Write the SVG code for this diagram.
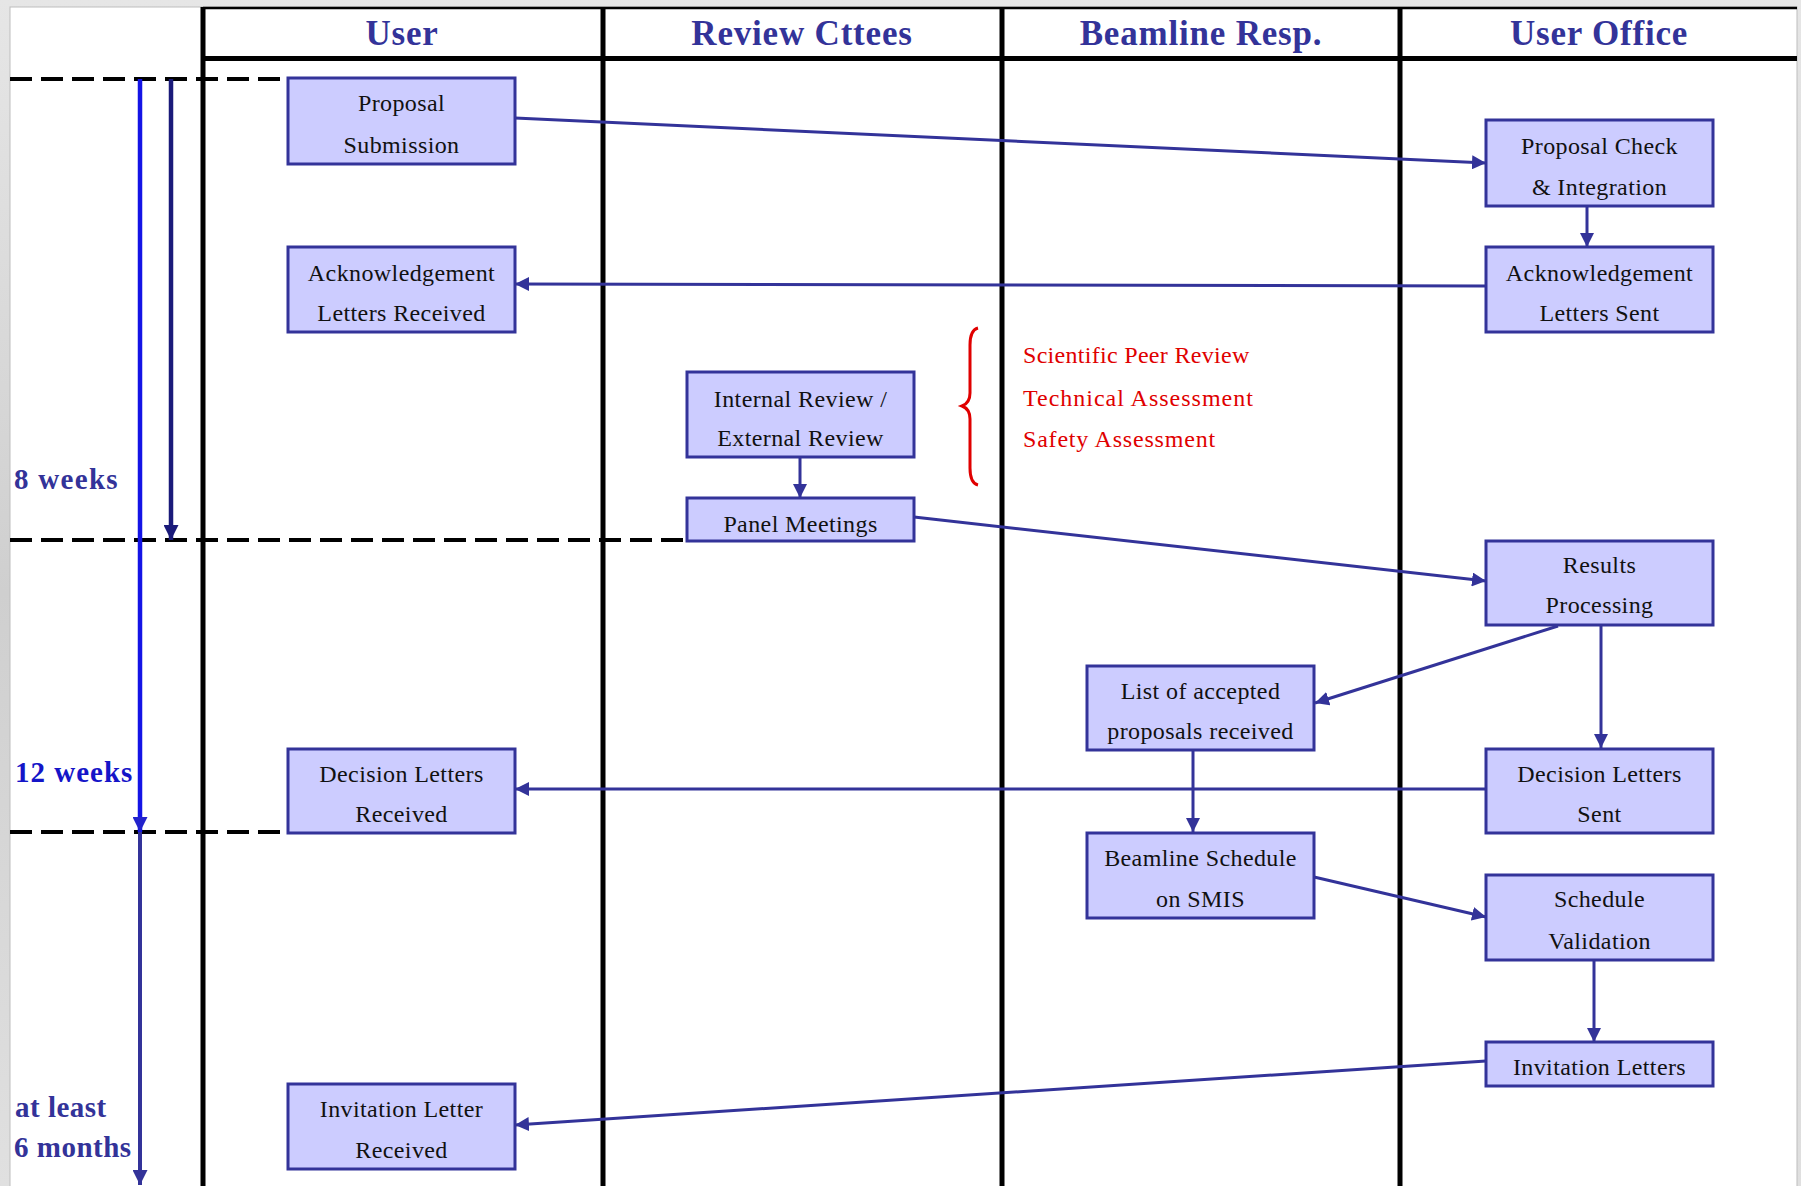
<svg xmlns="http://www.w3.org/2000/svg" width="1801" height="1186" viewBox="0 0 1801 1186">
<style>
.node rect{fill:#CCCCFF;stroke:#333399;stroke-width:3}
.node text{font-family:"Liberation Serif","Times New Roman",serif;font-size:24px;fill:#111;text-anchor:middle;letter-spacing:0.4px}
.lane{stroke:#000;stroke-width:5}
.hdr{font-family:"Liberation Serif","Times New Roman",serif;font-size:35px;font-weight:bold;fill:#333399;text-anchor:middle;letter-spacing:0.8px}
.dash{stroke:#000;stroke-width:4;stroke-dasharray:22 9;fill:none}
.conn line{stroke:#333399;stroke-width:3;fill:none;marker-end:url(#ah)}
.lbl{font-family:"Liberation Serif","Times New Roman",serif;font-size:29px;font-weight:bold;letter-spacing:0.5px}
.red{font-family:"Liberation Serif","Times New Roman",serif;font-size:24px;fill:#E00000;letter-spacing:0.8px}
</style>
<defs>
<linearGradient id="bg" x1="0" y1="0" x2="0" y2="1">
<stop offset="0" stop-color="#e6e6e6"/>
<stop offset="0.5" stop-color="#cfcfcf"/>
<stop offset="1" stop-color="#e0e0e0"/>
</linearGradient>
<marker id="ah" viewBox="0 0 12 12" refX="12" refY="6" markerWidth="14" markerHeight="14" markerUnits="userSpaceOnUse" orient="auto">
<path d="M0,0 L12,6 L0,12 Z" fill="#333399"/>
</marker>
<marker id="ahb" viewBox="0 0 12 12" refX="12" refY="6" markerWidth="15" markerHeight="15" markerUnits="userSpaceOnUse" orient="auto">
<path d="M0,0 L12,6 L0,12 Z" fill="#2222CC"/>
</marker>
<marker id="ahn" viewBox="0 0 12 12" refX="12" refY="6" markerWidth="15" markerHeight="15" markerUnits="userSpaceOnUse" orient="auto">
<path d="M0,0 L12,6 L0,12 Z" fill="#1a1a7a"/>
</marker>
<marker id="ahm" viewBox="0 0 12 12" refX="12" refY="6" markerWidth="15" markerHeight="15" markerUnits="userSpaceOnUse" orient="auto">
<path d="M0,0 L12,6 L0,12 Z" fill="#333399"/>
</marker>
</defs>

<g id="background">
<rect x="0" y="0" width="1801" height="1186" fill="url(#bg)"/>
<rect x="10" y="7" width="1787" height="1185" fill="#ffffff" stroke="#bdbdbd" stroke-width="1"/>
</g>

<g id="table">
<line x1="203" y1="8" x2="1797" y2="8" stroke="#000" stroke-width="2.5"/>
<line x1="203" y1="58.5" x2="1797" y2="58.5" class="lane"/>
<line x1="203" y1="7" x2="203" y2="1186" class="lane"/>
<line x1="603" y1="7" x2="603" y2="1186" class="lane"/>
<line x1="1002" y1="7" x2="1002" y2="1186" class="lane"/>
<line x1="1400" y1="7" x2="1400" y2="1186" class="lane"/>
<text class="hdr" x="402" y="45">User</text>
<text class="hdr" x="802" y="45">Review Cttees</text>
<text class="hdr" x="1201" y="45">Beamline Resp.</text>
<text class="hdr" x="1599" y="45">User Office</text>
</g>

<g id="milestones">
<line class="dash" x1="10" y1="79" x2="288" y2="79"/>
<line class="dash" x1="10" y1="540" x2="687" y2="540"/>
<line class="dash" x1="10" y1="832" x2="288" y2="832"/>
</g>

<g id="timeline">
<line x1="140" y1="79" x2="140" y2="832" stroke="#1414E6" stroke-width="4.5" marker-end="url(#ahb)"/>
<line x1="140" y1="832" x2="140" y2="1185" stroke="#333399" stroke-width="4" marker-end="url(#ahm)"/>
<line x1="171" y1="79" x2="171" y2="540" stroke="#1a1a7a" stroke-width="4.5" marker-end="url(#ahn)"/>
<text class="lbl" x="14" y="489" fill="#333399" style="letter-spacing:1.3px">8 weeks</text>
<text class="lbl" x="15" y="782" fill="#1515C8" style="letter-spacing:1px">12 weeks</text>
<text class="lbl" x="15" y="1117" fill="#333399">at least</text>
<text class="lbl" x="14" y="1157" fill="#333399">6 months</text>
</g>

<g id="annotation">
<path d="M978,328 Q970,330 970,345 L970,393 Q970,403 962,406 Q970,409 970,419 L970,468 Q970,483 978,485" fill="none" stroke="#E00000" stroke-width="3"/>
<text class="red" x="1023" y="363" style="letter-spacing:0.3px">Scientific Peer Review</text>
<text class="red" x="1023" y="406" style="letter-spacing:1px">Technical Assessment</text>
<text class="red" x="1023" y="447">Safety Assessment</text>
</g>

<g id="connectors" class="conn">
<line x1="515" y1="118" x2="1486" y2="163"/>
<line x1="1587" y1="206" x2="1587" y2="247"/>
<line x1="1486" y1="286" x2="515" y2="284"/>
<line x1="800" y1="457" x2="800" y2="498"/>
<line x1="914" y1="517" x2="1486" y2="581"/>
<line x1="1558" y1="626" x2="1315" y2="703"/>
<line x1="1601" y1="625" x2="1601" y2="748"/>
<line x1="1486" y1="789" x2="515" y2="789"/>
<line x1="1193" y1="750" x2="1193" y2="832"/>
<line x1="1314" y1="877" x2="1486" y2="917"/>
<line x1="1594" y1="960" x2="1594" y2="1042"/>
<line x1="1486" y1="1061" x2="515" y2="1125"/>
</g>

<g id="n-proposal-submission" class="node">
<rect x="288" y="78" width="227" height="86"/>
<text x="401.5" y="111">Proposal</text>
<text x="401.5" y="153">Submission</text>
</g>
<g id="n-ack-received" class="node">
<rect x="288" y="247" width="227" height="85"/>
<text x="401.5" y="281">Acknowledgement</text>
<text x="401.5" y="321">Letters Received</text>
</g>
<g id="n-proposal-check" class="node">
<rect x="1486" y="120" width="227" height="86"/>
<text x="1599.5" y="154">Proposal Check</text>
<text x="1599.5" y="195">&amp; Integration</text>
</g>
<g id="n-ack-sent" class="node">
<rect x="1486" y="247" width="227" height="85"/>
<text x="1599.5" y="281">Acknowledgement</text>
<text x="1599.5" y="321">Letters Sent</text>
</g>
<g id="n-review" class="node">
<rect x="687" y="372" width="227" height="85"/>
<text x="800.5" y="407">Internal Review /</text>
<text x="800.5" y="446">External Review</text>
</g>
<g id="n-panel" class="node">
<rect x="687" y="498" width="227" height="43"/>
<text x="800.5" y="532">Panel Meetings</text>
</g>
<g id="n-results" class="node">
<rect x="1486" y="541" width="227" height="84"/>
<text x="1599.5" y="573">Results</text>
<text x="1599.5" y="613">Processing</text>
</g>
<g id="n-list-accepted" class="node">
<rect x="1087" y="666" width="227" height="84"/>
<text x="1200.5" y="699">List of accepted</text>
<text x="1200.5" y="739">proposals received</text>
</g>
<g id="n-decision-received" class="node">
<rect x="288" y="749" width="227" height="84"/>
<text x="401.5" y="782">Decision Letters</text>
<text x="401.5" y="822">Received</text>
</g>
<g id="n-decision-sent" class="node">
<rect x="1486" y="749" width="227" height="84"/>
<text x="1599.5" y="782">Decision Letters</text>
<text x="1599.5" y="822">Sent</text>
</g>
<g id="n-beamline-schedule" class="node">
<rect x="1087" y="833" width="227" height="85"/>
<text x="1200.5" y="866">Beamline Schedule</text>
<text x="1200.5" y="907">on SMIS</text>
</g>
<g id="n-schedule-validation" class="node">
<rect x="1486" y="875" width="227" height="85"/>
<text x="1599.5" y="907">Schedule</text>
<text x="1599.5" y="949">Validation</text>
</g>
<g id="n-invitation-letters" class="node">
<rect x="1486" y="1042" width="227" height="44"/>
<text x="1599.5" y="1075">Invitation Letters</text>
</g>
<g id="n-invitation-received" class="node">
<rect x="288" y="1084" width="227" height="85"/>
<text x="401.5" y="1117">Invitation Letter</text>
<text x="401.5" y="1158">Received</text>
</g>
</svg>
